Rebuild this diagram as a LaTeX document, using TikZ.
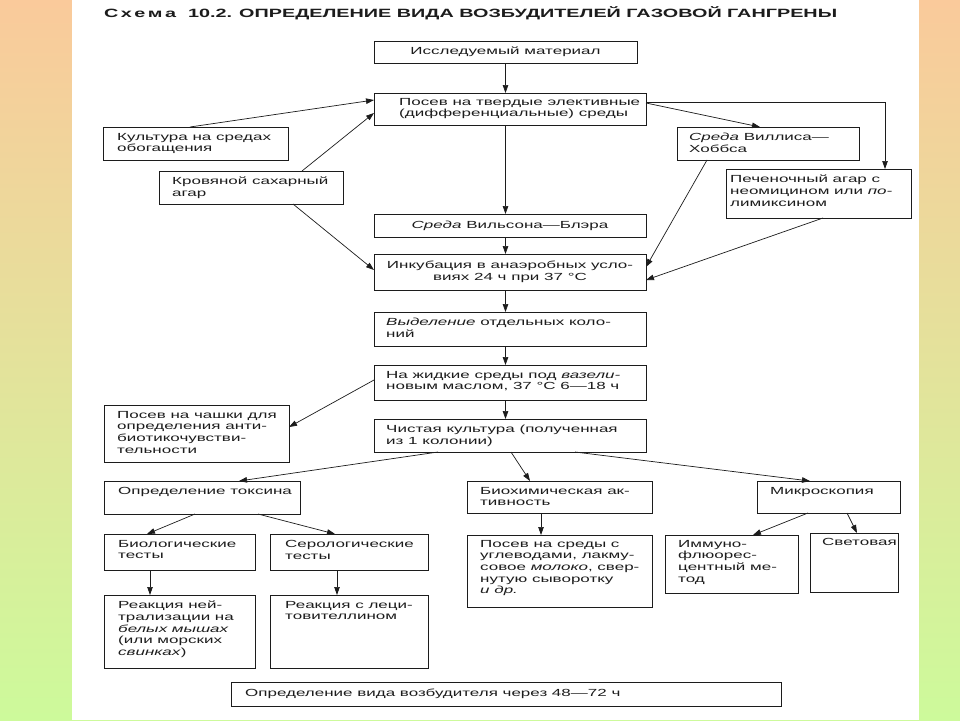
\documentclass[tikz,border=0pt]{standalone}
\usepackage{fontspec}
\setmainfont[FakeStretch=1.65]{Liberation Sans}
\usetikzlibrary{arrows.meta}
\definecolor{topc}{RGB}{250,202,155}
\definecolor{botc}{RGB}{205,250,155}
\definecolor{ink}{RGB}{28,28,28}
\tikzset{
  box/.style={draw=ink, line width=0.9pt, anchor=north west, inner sep=0pt, outer sep=0pt},
  txt/.style={anchor=north west, inner sep=0pt, align=left, text=ink, font=\fontsize{10.3}{11.6}\selectfont},
  ctxt/.style={inner sep=0pt, align=center, text=ink, font=\fontsize{10.3}{11.6}\selectfont},
  arr/.style={draw=ink, line width=0.7pt, -{Triangle[length=8pt,width=5.5pt]}},
}
\begin{document}
\begin{tikzpicture}[x=1pt,y=-1pt]
\useasboundingbox (0,0) rectangle (960,720);
\shade[top color=topc, bottom color=botc] (0,0) rectangle (960,720);
\fill[white] (72,0) rectangle (919,720);

% title
\node[anchor=base west, inner sep=0pt, text=ink, font=\bfseries\fontsize{12}{14}\selectfont] (title) at (104,17.5)
  {С\hspace{2.5pt}х\hspace{2.5pt}е\hspace{2.5pt}м\hspace{2.5pt}а\hspace{12pt}10.2.\hspace{7pt}ОПРЕДЕЛЕНИЕ ВИДА ВОЗБУДИТЕЛЕЙ ГАЗОВОЙ ГАНГРЕНЫ};

% boxes
\node[box, minimum width=263pt, minimum height=22pt] (mat) at (374,41) {};
\node[box, minimum width=272pt, minimum height=32pt] (posev) at (374,93) {};
\node[box, minimum width=185pt, minimum height=33pt] (kult) at (103,127) {};
\node[box, minimum width=184pt, minimum height=33pt] (krov) at (159,171) {};
\node[box, minimum width=182pt, minimum height=33pt] (villis) at (677,127) {};
\node[box, minimum width=185pt, minimum height=49pt] (pechen) at (726,169) {};
\node[box, minimum width=272pt, minimum height=23pt] (wilson) at (374,214) {};
\node[box, minimum width=272pt, minimum height=36pt] (incub) at (374,254) {};
\node[box, minimum width=272pt, minimum height=34pt] (vyd) at (374,312) {};
\node[box, minimum width=272pt, minimum height=35pt] (zhid) at (374,365) {};
\node[box, minimum width=185pt, minimum height=57pt] (chash) at (104,405) {};
\node[box, minimum width=272pt, minimum height=33pt] (chist) at (374,419) {};
\node[box, minimum width=196pt, minimum height=33pt] (toks) at (104,481) {};
\node[box, minimum width=185pt, minimum height=32pt] (bioch) at (467,481) {};
\node[box, minimum width=143pt, minimum height=32pt] (mikro) at (757,481) {};
\node[box, minimum width=151pt, minimum height=36pt] (biol) at (104,534) {};
\node[box, minimum width=158pt, minimum height=36pt] (serol) at (270,534) {};
\node[box, minimum width=185pt, minimum height=72pt] (posevb) at (467,535) {};
\node[box, minimum width=133pt, minimum height=58pt] (immuno) at (665,535) {};
\node[box, minimum width=88pt, minimum height=59pt] (svet) at (810,533) {};
\node[box, minimum width=151pt, minimum height=73pt] (reaka) at (104,595) {};
\node[box, minimum width=158pt, minimum height=73pt] (reakb) at (270,595) {};
\node[box, minimum width=550pt, minimum height=24pt] (final) at (231,682) {};

% texts
\node[ctxt] (matT) at (mat.center) {Исследуемый материал};
\node[txt] (posevT) at (399,98) {Посев на твердые элективные\\(дифференциальные) среды};
\node[txt] (kultT) at (117,133) {Культура на средах\\обогащения};
\node[txt] (krovT) at (172,177) {Кровяной сахарный\\агар};
\node[txt] (villisT) at (689,133) {\textit{Среда} Виллиса—\\Хоббса};
\node[txt] (pechenT) at (730,175) {Печеночный агар с\\неомицином или \textit{по-}\\лимиксином};
\node[ctxt] (wilsonT) at (wilson.center) {\textit{Среда} Вильсона—Блэра};
\node[ctxt] (incubT) at (incub.center) {Инкубация в анаэробных усло-\\виях 24 ч при 37 °С};
\node[txt] (vydT) at (386,318) {\textit{Выделение} отдельных коло-\\ний};
\node[txt] (zhidT) at (386,371) {На жидкие среды под \textit{вазели-}\\новым маслом, 37 °С 6—18 ч};
\node[txt] (chashT) at (117,411) {Посев на чашки для\\определения анти-\\биотикочувстви-\\тельности};
\node[txt] (chistT) at (386,425) {Чистая культура (полученная\\из 1 колонии)};
\node[txt] (toksT) at (118,487) {Определение токсина};
\node[txt] (biochT) at (480,487) {Биохимическая ак-\\тивность};
\node[txt] (mikroT) at (770,487) {Микроскопия};
\node[txt] (biolT) at (118,540) {Биологические\\тесты};
\node[txt] (serolT) at (285,540) {Серологические\\тесты};
\node[txt] (posevbT) at (480,540) {Посев на среды с\\углеводами, лакму-\\совое \textit{молоко}, свер-\\нутую сыворотку\\\textit{и др.}};
\node[txt] (immunoT) at (678,540) {Иммуно-\\флюорес-\\центный ме-\\тод};
\node[txt] (svetT) at (822,538) {Световая};
\node[txt] (reakaT) at (118,601) {Реакция ней-\\трализации на\\\textit{белых мышах}\\(или морских\\\textit{свинках})};
\node[txt] (reakbT) at (285,601) {Реакция с леци-\\товителлином};
\node[ctxt, anchor=west] (finalT) at ([xshift=14pt]final.west) {Определение вида возбудителя через 48—72 ч};

% connectors
\draw[arr] (mat.south) -- (mat.south |- posev.north);
\draw[arr] (mat.south |- posev.south) -- (mat.south |- wilson.north);
\draw[arr] (mat.south |- wilson.south) -- (mat.south |- incub.north);
\draw[arr] (mat.south |- incub.south) -- (mat.south |- vyd.north);
\draw[arr] (mat.south |- vyd.south) -- (mat.south |- zhid.north);
\draw[arr] (mat.south |- zhid.south) -- (mat.south |- chist.north);

\draw[arr] ([xshift=-5.5pt]kult.north) -- ([yshift=-7pt]posev.north west);
\draw[arr] ([xshift=51pt]krov.north) -- ([yshift=-20pt]posev.north west);
\draw[arr] ([xshift=42pt]krov.south) -- ([yshift=-16pt]incub.north west);
\draw[arr] ([yshift=-10pt]posev.north east) -- ([xshift=-8pt]villis.north);
\draw[arr] ([yshift=-9pt]posev.north east) -| ([xshift=66.5pt]pechen.north);
\draw[arr] ([xshift=-61pt]villis.south) -- ([yshift=-13pt]incub.north east);
\draw[arr] ([xshift=4.5pt]pechen.south) -- ([yshift=-26pt]incub.north east);

\draw[arr] ([yshift=-15pt]zhid.north west) -- ([yshift=-22pt]chash.north east);

\draw[arr] ([xshift=-72pt]chist.south) -- ([xshift=37pt]toks.north);
\draw[arr] ([xshift=1pt]chist.south) -- ([xshift=-29.5pt]bioch.north);
\draw[arr] ([xshift=65pt]chist.south) -- ([xshift=-18.5pt]mikro.north);

\draw[arr] ([xshift=-7pt]toks.south) -- ([xshift=-32.5pt]biol.north);
\draw[arr] ([xshift=56pt]toks.south) -- ([xshift=-14pt]serol.north);
\draw[arr] ([xshift=-29.5pt]biol.south) -- ([xshift=-29.5pt]reaka.north);
\draw[arr] ([xshift=-12pt]serol.south) -- ([xshift=-12pt]reakb.north);
\draw[arr] ([xshift=-18.5pt]bioch.south) -- ([xshift=-18.5pt]bioch.south |- posevb.north);

\draw[arr] ([xshift=-20.5pt]mikro.south) -- ([xshift=21.5pt]immuno.north);
\draw[arr] ([xshift=18.5pt]mikro.south) -- ([xshift=3pt]svet.north);
\end{tikzpicture}
\end{document}
